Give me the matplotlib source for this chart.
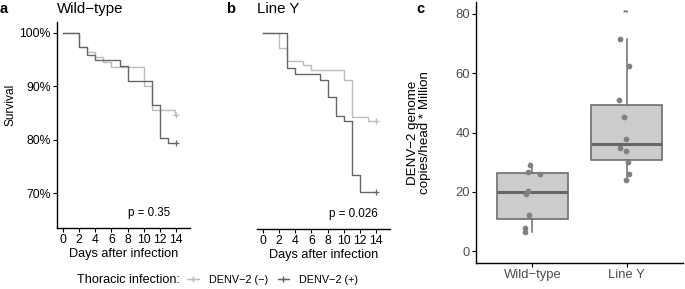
import numpy as np
import matplotlib
matplotlib.use("Agg")
import matplotlib.pyplot as plt

plt.rcParams['font.family'] = ['Liberation Sans', 'DejaVu Sans']

# ---- survival curves (percent), step after each time ----
wt_neg_days = [0, 2, 3, 4, 5, 6, 10, 11, 13.8, 14]
wt_neg_surv = [100, 97.3, 96.4, 95.5, 94.6, 93.7, 90.0, 85.5, 84.7, 84.7]
wt_pos_days = [0, 2, 3, 4, 7, 8, 11, 12, 13, 14]
wt_pos_surv = [100, 97.3, 95.8, 94.9, 93.9, 91.1, 86.5, 80.3, 79.5, 79.5]

ly_neg_days = [0, 2, 3, 5, 6, 10, 11, 13, 14]
ly_neg_surv = [100, 97.3, 94.8, 94.1, 93.1, 91.3, 84.4, 83.7, 83.7]
ly_pos_days = [0, 3, 4, 7, 8, 9, 10, 11, 12, 14]
ly_pos_surv = [100, 93.4, 92.3, 91.2, 88.0, 84.5, 83.6, 73.6, 70.4, 70.4]

p_values = ["p = 0.35", "p = 0.026"]

# ---- viral load ----
groups = ["Wild\u2212type", "Line Y"]
wt_load = [29.1, 26.8, 26.2, 20.4, 19.4, 12.1, 7.9, 6.4]
wt_jitter = [-0.026, -0.050, 0.079, -0.044, -0.068, -0.037, -0.079, -0.079]
ly_load = [71.3, 62.5, 50.9, 45.1, 37.7, 34.9, 33.7, 30.1, 26.2, 23.9]
ly_jitter = [-0.070, 0.028, -0.076, -0.031, -0.007, -0.066, -0.003, 0.014, 0.021, -0.007]
box_q1 = [11.0, 30.9]
box_med = [19.9, 36.1]
box_q3 = [26.4, 49.2]
box_lo = [6.5, 23.9]
box_hi = [29.1, 71.3]

LIGHT = "#BDBDBD"
DARK = "#666666"
W, H = 685, 289

fig = plt.figure(figsize=(W / 100, H / 100), dpi=100)


def px_axes(l, t, r, b):
    return fig.add_axes([l / W, 1 - b / H, (r - l) / W, (b - t) / H])


def km_panel(ax, neg_d, neg_s, pos_d, pos_s, ptxt, px):
    ax.step(neg_d, neg_s, where='post', color=LIGHT, lw=1.0)
    ax.step(pos_d, pos_s, where='post', color=DARK, lw=1.0)
    ax.plot(neg_d[-1], neg_s[-1], '+', color=LIGHT, ms=4, mew=0.9)
    ax.plot(pos_d[-1], pos_s[-1], '+', color=DARK, ms=4, mew=0.9)
    ax.set_xlim(-0.72, 15.7)
    ax.set_ylim(63.5, 102.05)
    ax.set_xticks(range(0, 15, 2))
    ax.set_yticks([70, 80, 90, 100])
    ax.set_yticklabels(["70%", "80%", "90%", "100%"])
    ax.text(px, 65.1, ptxt, ha='center', va='bottom', fontsize=8.4)
    ax.set_xlabel("Days after infection", fontsize=9.2, labelpad=1)
    for s in ['top', 'right']:
        ax.spines[s].set_visible(False)
    ax.tick_params(labelsize=8.8, length=3, width=0.8, colors='black', pad=1.5)


ax_a = px_axes(57, 22, 190, 228)
km_panel(ax_a, wt_neg_days, wt_neg_surv, wt_pos_days, wt_pos_surv, p_values[0], 10.7)
fig.text(4 / W, 1 - 105 / H, "Survival", fontsize=8.6, rotation=90, ha='left', va='center')

ax_b = px_axes(257, 22, 390, 229)
km_panel(ax_b, ly_neg_days, ly_neg_surv, ly_pos_days, ly_pos_surv, p_values[1], 11.2)
ax_b.spines['left'].set_visible(False)
ax_b.tick_params(axis='y', left=False, labelleft=False)

for ax in (ax_a, ax_b):
    for s in ax.spines.values():
        s.set_linewidth(1.0)

# ---- panel c ----
ax_c = px_axes(476, 2, 683, 263)
stats = []
for i in range(2):
    stats.append(dict(q1=box_q1[i], med=box_med[i], q3=box_q3[i],
                      whislo=box_lo[i], whishi=box_hi[i], fliers=[]))
ax_c.bxp(stats, positions=[1, 2], widths=0.75, patch_artist=True, showcaps=False,
         boxprops=dict(facecolor="#CCCCCC", edgecolor="#6E6E6E", lw=1.2),
         medianprops=dict(color="#666666", lw=2.2),
         whiskerprops=dict(color="#6E6E6E", lw=1.1))
ax_c.scatter(1 + np.array(wt_jitter), wt_load, s=17, color="#808080", zorder=3, lw=0)
ax_c.scatter(2 + np.array(ly_jitter), ly_load, s=17, color="#808080", zorder=3, lw=0)
ax_c.text(2, 80.2, "**", ha='center', va='center', fontsize=6, color='#333333')
ax_c.set_xlim(0.4, 2.6)
ax_c.set_ylim(-3.9, 83.9)
ax_c.set_yticks([0, 20, 40, 60, 80])
ax_c.set_xticks([1, 2])
ax_c.set_xticklabels(groups)
ax_c.tick_params(labelsize=9.4, labelcolor="#4D4D4D", length=3, width=0.8, pad=1.5)
ax_c.set_ylabel("DENV\u22122 genome\ncopies/head * Million", fontsize=9.6, linespacing=1.05)
ax_c.yaxis.set_label_coords(-0.215, 0.5)
for s in ['top', 'right']:
    ax_c.spines[s].set_visible(False)
for s in ax_c.spines.values():
    s.set_linewidth(1.0)

# ---- titles / panel letters ----
fig.text(0 / W, 1 - 9 / H, "a", fontsize=10.5, fontweight='bold', va='center', ha='left')
fig.text(57 / W, 1 - 9 / H, "Wild\u2212type", fontsize=10.8, va='center', ha='left')
fig.text(226 / W, 1 - 9 / H, "b", fontsize=10.5, fontweight='bold', va='center', ha='left')
fig.text(257 / W, 1 - 9 / H, "Line Y", fontsize=10.8, va='center', ha='left')
fig.text(416 / W, 1 - 9 / H, "c", fontsize=10.5, fontweight='bold', va='center', ha='left')

# ---- legend ----
fig.text(77 / W, 1 - 280 / H, "Thoracic infection:", fontsize=9.1, va='center', ha='left')
h1, = ax_a.plot([], [], color=LIGHT, lw=1.0, marker='+', ms=4)
h2, = ax_a.plot([], [], color=DARK, lw=1.0, marker='+', ms=4)
fig.legend([h1, h2], ["DENV\u22122 (\u2212)", "DENV\u22122 (+)"], loc='center left',
           bbox_to_anchor=(187 / W, 1 - 280 / H), ncol=2, frameon=False, fontsize=7.8,
           handlelength=1.1, handletextpad=0.9, columnspacing=0.9, borderpad=0, borderaxespad=0)

fig.savefig("out.png", dpi=100)
